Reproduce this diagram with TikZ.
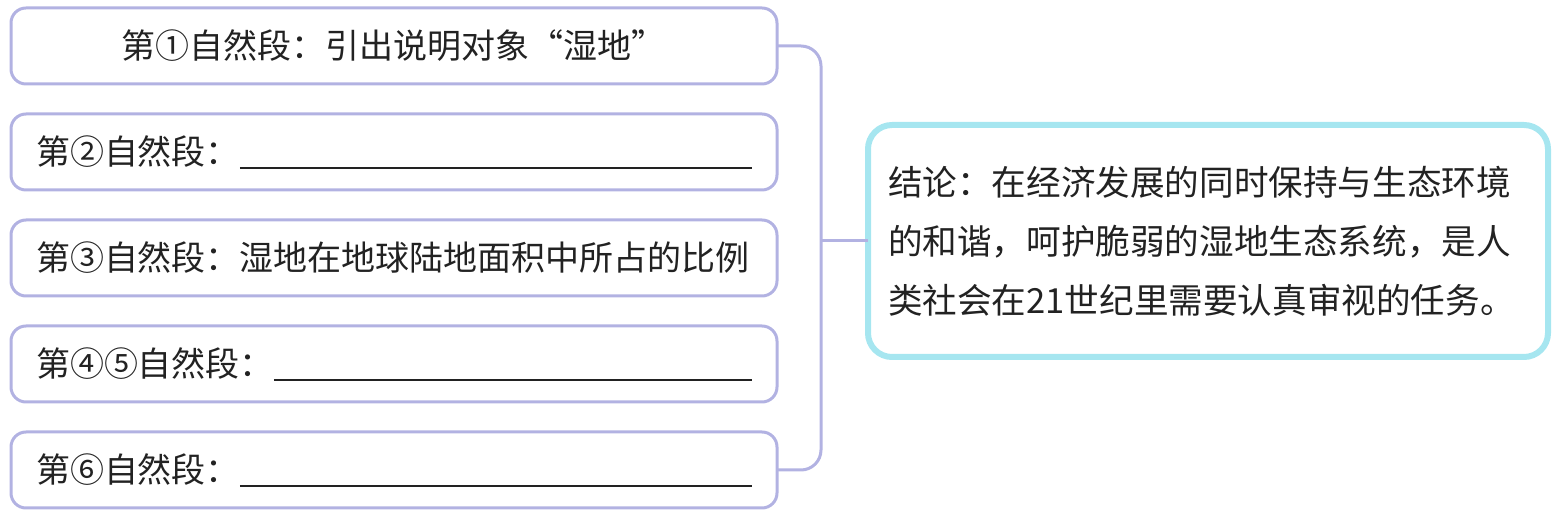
\documentclass[tikz,border=0pt]{standalone}
\usepackage{fontspec}
\setmainfont{Noto Sans CJK SC}
\usepackage{xcolor}
\definecolor{lav}{HTML}{B2B2E2}
\definecolor{cyn}{HTML}{A6E6F0}
\definecolor{ink}{HTML}{222222}
\usepackage{tikz}
\usetikzlibrary{positioning,calc}
\newcommand{\blankline}{\leavevmode\leaders\hrule height -1.6pt depth 2.4pt\hfill\kern0pt}
\tikzset{
  para/.style={draw=lav,line width=1.5pt,rounded corners=7.5pt,text width=358pt,inner xsep=12.5pt,
    outer sep=0pt,minimum height=38pt,align=left,text=ink,font=\fontsize{17pt}{20pt}\selectfont},
  concl/.style={draw=cyn,line width=3pt,rounded corners=12pt,text width=320pt,inner xsep=10pt,
    outer sep=0pt,minimum height=116pt,align=left,text=ink,font=\fontsize{17.3pt}{29.5pt}\selectfont},
  brk/.style={draw=lav,line width=1.5pt,rounded corners=10pt},
}
\begin{document}
\begin{tikzpicture}[x=0.5pt,y=-0.5pt]
\useasboundingbox (0,0) rectangle (1565,517);
\node[para,align=center] (p1) at (394,46) {第①自然段：引出说明对象“湿地”};
\node[para,below=15pt of p1] (p2) {第②自然段：\blankline};
\node[para,below=15pt of p2] (p3) {第③自然段：湿地在地球陆地面积中所占的比例};
\node[para,below=15pt of p3] (p4) {第④⑤自然段：\blankline};
\node[para,below=15pt of p4] (p5) {第⑥自然段：\blankline};
\coordinate[right=22pt of p1.east] (spine);
\node[concl] (end) at (1208,241) {结论：在经济发展的同时保持与生态环境\\的和谐，呵护脆弱的湿地生态系统，是人\\类社会在21世纪里需要认真审视的任务。};
% bracket joining the paragraphs
\draw[brk] (p1.east) -| (spine |- p5.east) -- (p5.east);
\draw[brk] (spine |- end.west) -- (end.west);
\end{tikzpicture}
\end{document}
